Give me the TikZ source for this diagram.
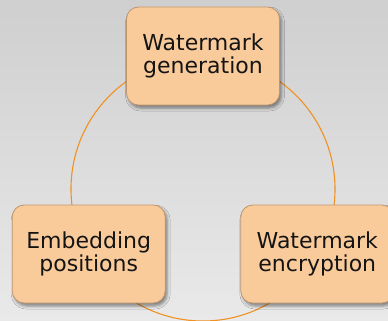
\documentclass[tikz,border=0pt]{standalone}
\usepackage{fontspec}
\setmainfont{DejaVu Sans}
\usetikzlibrary{shadows.blur}
\definecolor{boxfill}{RGB}{250,203,154}
\definecolor{boxline}{RGB}{190,150,110}
\definecolor{ringline}{RGB}{240,145,35}
\definecolor{bgtop}{RGB}{207,207,207}
\definecolor{bgbottom}{RGB}{233,233,233}
\tikzset{
  stagebox/.style={
    draw=boxline, line width=0.8pt, fill=boxfill,
    rounded corners=12pt,
    minimum width=153pt, minimum height=98pt,
    align=center, inner sep=0pt,
    font=\fontsize{22}{23.5}\selectfont, text=black!92,
    blur shadow={shadow xshift=2pt, shadow yshift=-3pt,
                 shadow blur radius=3pt, shadow opacity=45}
  },
  ring/.style={draw=ringline, line width=1.1pt}
}
\begin{document}
\begin{tikzpicture}[x=1pt, y=-1pt]
  % canvas and background
  \useasboundingbox (0,0) rectangle (388,321);
  \clip (0,0) rectangle (388,321);
  \shade[top color=bgtop, bottom color=bgbottom] (0,0) rectangle (388,321);

  % cycle ring behind the stages
  \coordinate (hub) at (203,189);
  \draw[ring] (hub) circle[radius=132pt];

  % the three stages
  \node[stagebox] (gen) at (203,56) {Watermark\\generation};
  \node[stagebox] (emb) at (88.7,254) {Embedding\\positions};
  \node[stagebox] (enc) at (317.3,254) {Watermark\\encryption};
\end{tikzpicture}
\end{document}
